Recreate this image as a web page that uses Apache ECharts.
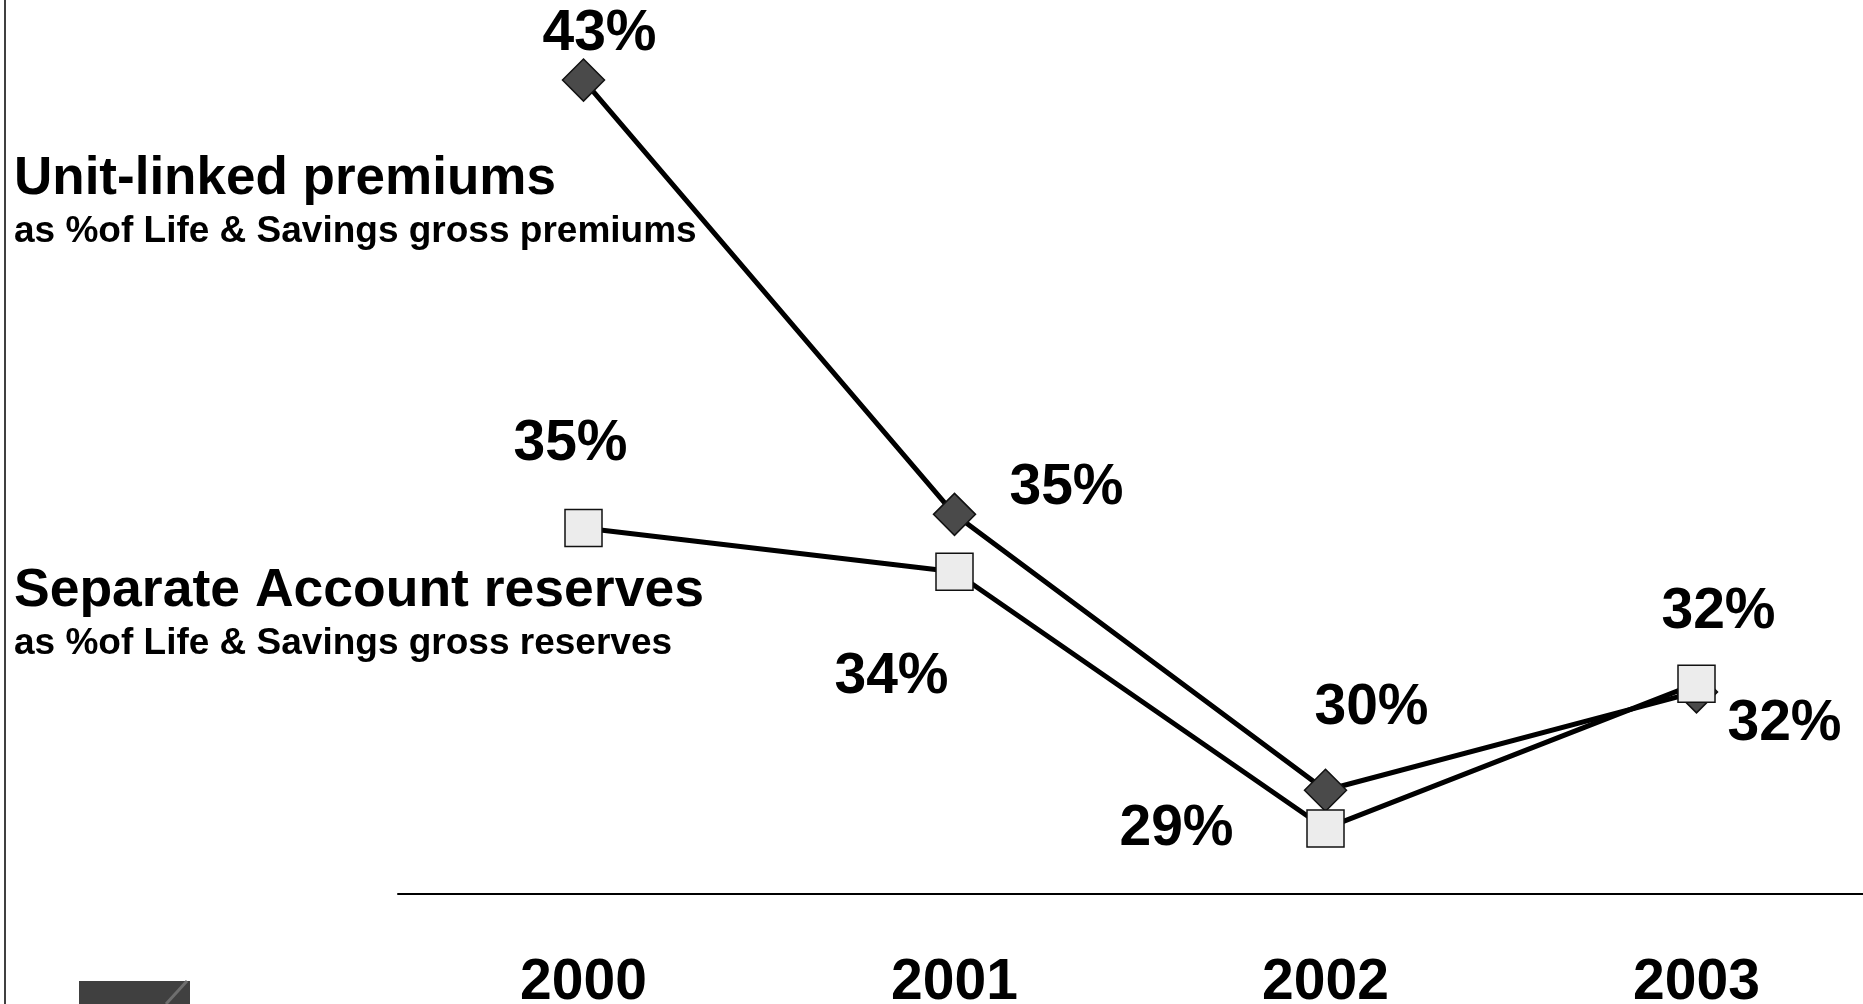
<!DOCTYPE html>
<html>
<head>
<meta charset="utf-8">
<title>Unit-linked premiums and Separate Account reserves</title>
<script src="https://cdn.jsdelivr.net/npm/echarts@6/dist/echarts.min.js"></script>
<style>
  html, body { margin: 0; padding: 0; background: #ffffff; }
  #chart { width: 1863px; height: 1004px; }
</style>
</head>
<body>
<div id="chart"></div>
<script>
// Years on the category axis
const years = ['2000', '2001', '2002', '2003'];

// Unit-linked premiums as % of Life & Savings gross premiums
const unitLinked = [42.9, 34.95, 29.9, 31.7];

// Separate Account reserves as % of Life & Savings gross reserves
const separateAccount = [34.7, 33.9, 29.2, 31.85];

// Where each value label sits relative to its marker (pixels)
const unitLinkedLabelShift = [[16, -46], [112, -26], [46, -82], [88, 32]];
const separateLabelShift = [[-13, -84], [-63, 106], [-149, 1], [22, -71]];

const FONT = '"Liberation Sans", Arial, Helvetica, sans-serif';

function withLabels(values, shifts) {
  return values.map((v, i) => ({
    value: v,
    label: { offset: shifts[i] }
  }));
}

const valueLabel = {
  show: true,
  position: 'inside',
  formatter: p => Math.round(p.value) + '%',
  color: '#000000',
  fontFamily: FONT,
  fontWeight: 'bold',
  fontSize: 57
};

const chart = echarts.init(document.getElementById('chart'), null, { renderer: 'canvas' });

chart.setOption({
  animation: false,
  backgroundColor: '#ffffff',
  grid: {
    left: 398, top: 20, width: 1484, height: 874,
    containLabel: false,
    outerBoundsMode: 'none'
  },
  xAxis: {
    type: 'category',
    data: years,
    boundaryGap: true,
    axisLine: { show: true, lineStyle: { color: '#000000', width: 2 } },
    axisTick: { show: false },
    splitLine: { show: false },
    axisLabel: {
      margin: 61,
      color: '#000000',
      fontFamily: FONT,
      fontWeight: 'bold',
      fontSize: 57
    }
  },
  yAxis: {
    type: 'value',
    min: 28,
    max: 44,
    show: false
  },
  series: [
    {
      name: 'Unit-linked premiums',
      type: 'line',
      data: withLabels(unitLinked, unitLinkedLabelShift),
      symbol: 'diamond',
      symbolSize: 42,
      lineStyle: { color: '#000000', width: 5 },
      itemStyle: { color: '#4a4a4a', borderColor: '#111111', borderWidth: 1.5 },
      label: valueLabel,
      z: 2
    },
    {
      name: 'Separate Account reserves',
      type: 'line',
      data: withLabels(separateAccount, separateLabelShift),
      symbol: 'rect',
      symbolSize: 37,
      lineStyle: { color: '#000000', width: 5 },
      itemStyle: { color: '#ececec', borderColor: '#111111', borderWidth: 1.5 },
      label: valueLabel,
      z: 3
    }
  ],
  graphic: [
    // left frame edge
    {
      type: 'line',
      shape: { x1: 5, y1: 0, x2: 5, y2: 1004 },
      style: { stroke: '#000000', lineWidth: 1.5 }
    },
    // series captions
    {
      type: 'text', left: 14, top: 153,
      style: { text: 'Unit-linked premiums', font: 'bold 53px ' + FONT, fill: '#000000' }
    },
    {
      type: 'text', left: 14, top: 213,
      style: { text: 'as %of Life & Savings gross premiums', font: 'bold 37px ' + FONT, fill: '#000000' }
    },
    {
      type: 'text', left: 14, top: 564,
      style: { text: 'Separate Account reserves', font: 'bold 53.5px ' + FONT, fill: '#000000' }
    },
    {
      type: 'text', left: 14, top: 625,
      style: { text: 'as %of Life & Savings gross reserves', font: 'bold 37px ' + FONT, fill: '#000000' }
    },
    // dark tab in the lower-left corner
    {
      type: 'rect',
      shape: { x: 79, y: 981, width: 111, height: 30 },
      style: { fill: '#404040' }
    },
    {
      type: 'line',
      shape: { x1: 166, y1: 1004, x2: 187, y2: 981 },
      style: { stroke: '#6e6e6e', lineWidth: 3 }
    }
  ]
});
</script>
</body>
</html>
